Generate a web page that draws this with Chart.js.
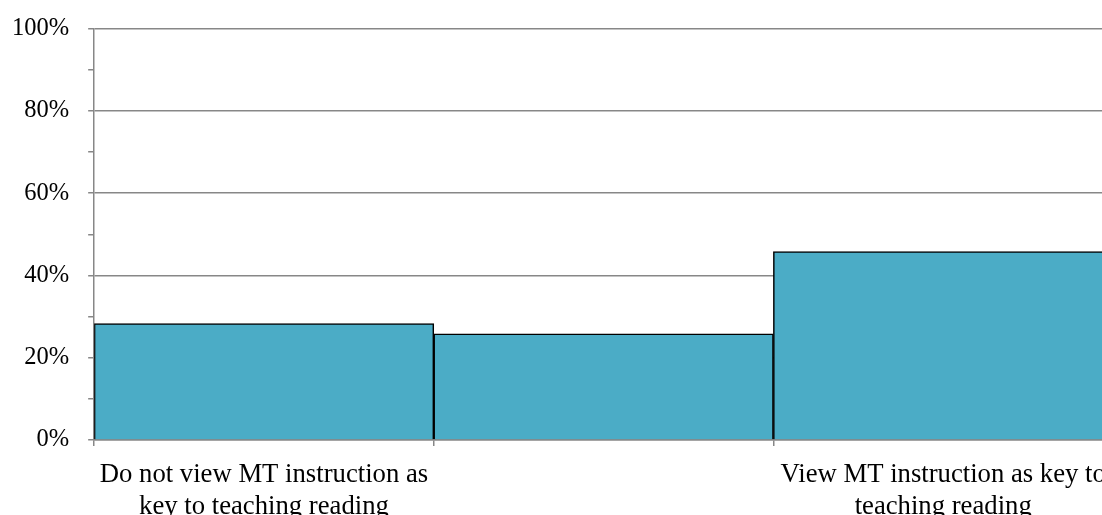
<!DOCTYPE html>
<html>
<head>
<meta charset="utf-8">
<script src="https://cdn.jsdelivr.net/npm/chart.js@4"></script>
<style>
  html, body { margin: 0; padding: 0; overflow: hidden; background: #fff; }
  #wrap { width: 1140px; height: 541px; position: relative; margin-left: -7px; margin-top: -5px; }
</style>
</head>
<body>
<div id="wrap"><canvas id="myChart"></canvas></div>
<script>
// values (percent)
const categories = [
  ['Do not view MT instruction as', 'key to teaching reading'],
  '',
  ['View MT instruction as key to', 'teaching reading']
];
const shares = [28.3, 25.8, 45.8];
const yTicks = [0, 20, 40, 60, 80, 100];

const ctx = document.getElementById('myChart').getContext('2d');
const gray = '#878787';

let myChart = new Chart(ctx, {
  type: 'bar',
  data: {
    labels: categories,
    datasets: [{
      data: shares,
      backgroundColor: '#4BACC6',
      borderColor: '#000000',
      borderWidth: 1.5,
      categoryPercentage: 1,
      barPercentage: 1
    }]
  },
  options: {
    responsive: true,
    maintainAspectRatio: false,
    animation: false,
    layout: { padding: { top: 9, right: 20, left: 0, bottom: 0 } },
    plugins: { legend: { display: false }, tooltip: { enabled: false } },
    scales: {
      x: {
        grid: { drawOnChartArea: false, color: gray, tickLength: 6, lineWidth: 1.5 },
        border: { color: gray, width: 1.5 },
        ticks: {
          color: '#000',
          maxRotation: 0,
          autoSkip: false,
          padding: 13,
          font: { family: 'Liberation Serif', size: 26.7 }
        }
      },
      y: {
        min: 0,
        max: 100,
        grid: {
          color: c => (c.tick && c.tick.value % 20 === 0) ? gray : 'rgba(0,0,0,0)',
          tickColor: gray,
          tickLength: 6,
          lineWidth: 1.5
        },
        border: { color: gray, width: 1.5 },
        ticks: {
          stepSize: 10,
          padding: 19,
          color: '#000',
          font: { family: 'Liberation Serif', size: 24.5 },
          callback: v => yTicks.includes(v) ? v + '%' : ''
        }
      }
    }
  }
});
</script>
</body>
</html>
